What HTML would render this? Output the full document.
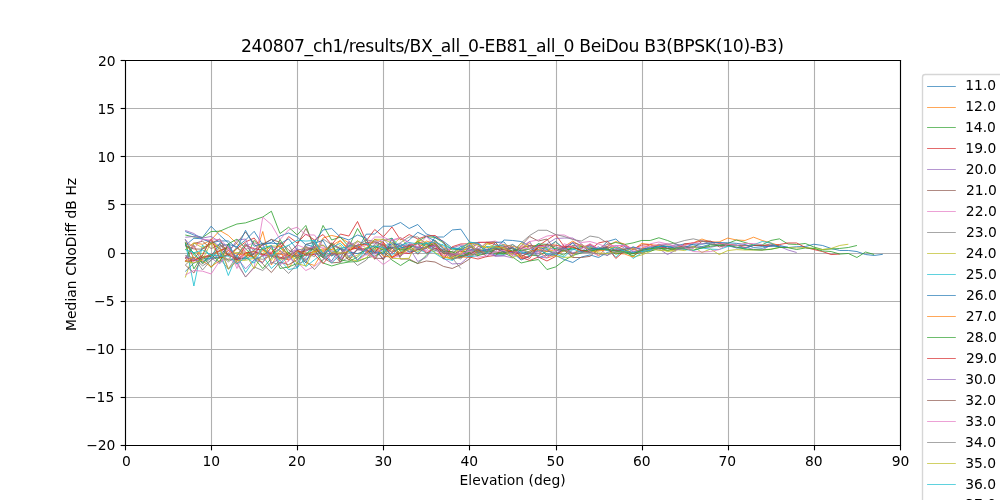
<!DOCTYPE html>
<html lang="en"><head><meta charset="utf-8"><title>240807_ch1/results/BX_all_0-EB81_all_0 BeiDou B3(BPSK(10)-B3)</title>
<style>
html,body{margin:0;padding:0;background:#ffffff;width:1000px;height:500px;overflow:hidden}
svg{display:block}
</style></head><body>
<svg width="1000" height="500" viewBox="0 0 1000 500">
<rect x="0" y="0" width="1000" height="500" fill="#ffffff"/>
<g stroke="#b0b0b0" stroke-width="1.111" fill="none" stroke-linecap="butt">
<line x1="125.5" y1="60.0" x2="125.5" y2="445.0"/>
<line x1="211.5" y1="60.0" x2="211.5" y2="445.0"/>
<line x1="297.5" y1="60.0" x2="297.5" y2="445.0"/>
<line x1="383.5" y1="60.0" x2="383.5" y2="445.0"/>
<line x1="469.5" y1="60.0" x2="469.5" y2="445.0"/>
<line x1="556.5" y1="60.0" x2="556.5" y2="445.0"/>
<line x1="642.5" y1="60.0" x2="642.5" y2="445.0"/>
<line x1="728.5" y1="60.0" x2="728.5" y2="445.0"/>
<line x1="814.5" y1="60.0" x2="814.5" y2="445.0"/>
<line x1="900.5" y1="60.0" x2="900.5" y2="445.0"/>
<line x1="125.0" y1="445.5" x2="900.0" y2="445.5"/>
<line x1="125.0" y1="397.5" x2="900.0" y2="397.5"/>
<line x1="125.0" y1="349.5" x2="900.0" y2="349.5"/>
<line x1="125.0" y1="301.5" x2="900.0" y2="301.5"/>
<line x1="125.0" y1="253.5" x2="900.0" y2="253.5"/>
<line x1="125.0" y1="204.5" x2="900.0" y2="204.5"/>
<line x1="125.0" y1="156.5" x2="900.0" y2="156.5"/>
<line x1="125.0" y1="108.5" x2="900.0" y2="108.5"/>
<line x1="125.0" y1="60.5" x2="900.0" y2="60.5"/>
</g>
<svg x="125.0" y="60.0" width="775.0" height="385.0" viewBox="125.0 60.0 775.0 385.0" overflow="hidden">
<g fill="none" stroke-width="0.810" stroke-linejoin="round" stroke-linecap="butt">
<polyline stroke="#1f77b4" points="185.28,231.52 193.89,234.98 202.50,237.48 211.11,226.22 219.72,235.18 228.33,242.88 236.94,260.53 245.56,257.05 254.17,249.70 262.78,245.01 271.39,239.42 280.00,247.72 288.61,254.00 297.22,268.09 305.83,244.55 314.44,246.90 323.06,256.68 331.67,260.76 340.28,248.35 348.89,257.27 357.50,249.89 366.11,234.21 374.72,234.02 383.33,226.22 391.94,226.22 400.56,222.47 409.17,228.53 417.78,224.49 426.39,234.02 435.00,237.00 443.61,237.00 452.22,229.98 460.83,229.21 469.44,242.01 478.06,243.45 486.67,252.25 495.28,249.76 503.89,239.99 512.50,240.47 521.11,241.53 529.72,245.95 538.33,257.92 546.94,254.59 555.56,255.50 564.17,248.72 572.78,249.87 581.39,246.88 590.00,247.94 598.61,250.41 607.22,241.53 615.83,239.03 624.44,246.53 633.06,251.71 641.67,250.53 650.28,248.87 658.89,244.61 667.50,246.30 676.11,246.00 684.72,243.76 693.33,244.90 701.94,246.70 710.56,244.14 719.17,245.06 727.78,245.68 736.39,247.85 745.00,248.11 753.61,245.35 762.22,246.45 770.83,246.41 779.44,245.36 788.06,247.54 796.67,246.72 805.28,246.53 813.89,244.22 822.50,245.47 831.11,248.46 839.72,250.48 848.33,250.48 856.94,251.54 865.56,254.52 874.17,255.48 882.78,254.33"/>
<polyline stroke="#ff7f0e" points="185.28,249.61 193.89,242.88 202.50,244.32 211.11,239.99 219.72,230.46 228.33,235.46 236.94,243.84 245.56,251.84 254.17,258.28 262.78,231.52 271.39,265.01 280.00,250.64 288.61,268.00 297.22,255.63 305.83,259.71 314.44,252.31 323.06,237.97 331.67,235.46 340.28,237.48 348.89,242.97 357.50,246.32 366.11,250.20 374.72,239.32 383.33,242.52 391.94,250.22 400.56,253.63 409.17,249.49 417.78,248.65 426.39,241.06 435.00,243.53 443.61,254.14 452.22,259.40 460.83,256.68 469.44,254.47 478.06,254.16 486.67,244.12 495.28,242.06 503.89,251.72 512.50,252.12 521.11,246.98 529.72,246.36 538.33,245.42 546.94,251.82 555.56,249.53 564.17,246.53 572.78,241.05 581.39,246.53 590.00,245.95 598.61,256.16 607.22,246.28 615.83,241.53 624.44,244.03 633.06,250.00 641.67,243.45 650.28,244.51 658.89,249.06 667.50,245.94 676.11,247.57 684.72,244.91 693.33,242.88 701.94,239.03 710.56,242.01 719.17,241.91 727.78,238.06 736.39,239.99 745.00,240.47 753.61,237.20 762.22,240.47 770.83,242.97 779.44,245.47"/>
<polyline stroke="#2ca02c" points="185.28,234.98 193.89,237.00 202.50,237.58 211.11,231.52 219.72,231.23 228.33,227.47 236.94,224.01 245.56,222.86 254.17,219.97 262.78,216.98 271.39,211.21 280.00,233.54 288.61,227.19 297.22,234.98 305.83,225.45 314.44,248.65 323.06,225.45 331.67,239.99 340.28,237.10 348.89,246.72 357.50,228.53 366.11,242.88 374.72,247.56 383.33,240.83 391.94,238.15 400.56,251.52 409.17,248.57 417.78,241.21 426.39,236.51 435.00,237.48 443.61,242.98 452.22,249.87 460.83,248.98 469.44,250.43 478.06,248.92 486.67,252.02 495.28,249.71 503.89,246.71 512.50,251.95 521.11,252.82 529.72,255.17 538.33,255.72 546.94,251.25 555.56,252.30 564.17,255.23 572.78,245.28 581.39,246.39 590.00,249.99 598.61,248.48 607.22,244.41 615.83,242.49 624.44,244.51 633.06,242.88 641.67,240.47 650.28,240.47 658.89,237.77 667.50,240.47 676.11,244.03 684.72,248.04 693.33,246.51 701.94,248.03 710.56,244.71 719.17,245.41 727.78,243.45 736.39,239.99 745.00,242.49 753.61,244.99 762.22,244.80 770.83,240.47 779.44,238.83 788.06,244.03 796.67,244.51 805.28,243.45 813.89,247.01 822.50,249.52 831.11,249.04 839.72,248.46 848.33,247.50 856.94,245.47"/>
<polyline stroke="#d62728" points="185.28,239.27 193.89,258.87 202.50,248.36 211.11,242.97 219.72,248.65 228.33,255.25 236.94,248.65 245.56,241.91 254.17,238.06 262.78,249.61 271.39,253.95 280.00,248.65 288.61,236.52 297.22,242.97 305.83,234.02 314.44,239.99 323.06,234.50 331.67,244.80 340.28,234.02 348.89,236.04 357.50,221.51 366.11,240.95 374.72,229.50 383.33,236.81 391.94,226.99 400.56,239.99 409.17,234.50 417.78,239.03 426.39,236.04 435.00,235.46 443.61,242.01 452.22,258.58 460.83,256.63 469.44,252.26 478.06,252.44 486.67,249.29 495.28,248.24 503.89,252.67 512.50,252.14 521.11,258.68 529.72,256.10 538.33,245.95 546.94,239.99 555.56,234.50 564.17,246.53 572.78,246.24 581.39,251.06 590.00,249.76 598.61,242.97 607.22,241.05 615.83,249.04 624.44,245.34 633.06,249.23 641.67,245.06 650.28,244.59 658.89,247.02 667.50,248.25 676.11,249.99 684.72,243.84 693.33,242.88 701.94,240.95 710.56,241.53 719.17,243.45 727.78,244.25 736.39,245.05 745.00,247.59 753.61,245.58 762.22,245.48 770.83,245.73 779.44,244.51 788.06,242.97 796.67,242.97 805.28,247.50 813.89,249.52 822.50,251.54 831.11,254.52 839.72,254.04"/>
<polyline stroke="#9467bd" points="185.28,230.46 193.89,233.54 202.50,239.51 211.11,240.95 219.72,246.17 228.33,269.10 236.94,261.04 245.56,256.18 254.17,253.86 262.78,243.63 271.39,263.44 280.00,258.58 288.61,256.85 297.22,255.19 305.83,246.28 314.44,250.78 323.06,254.08 331.67,250.02 340.28,259.78 348.89,249.95 357.50,246.10 366.11,251.22 374.72,250.99 383.33,258.55 391.94,252.90 400.56,256.54 409.17,243.74 417.78,247.55 426.39,247.60 435.00,246.61 443.61,251.57 452.22,247.95 460.83,245.11 469.44,246.21 478.06,242.36 486.67,250.24 495.28,255.49 503.89,251.44 512.50,252.80 521.11,252.06 529.72,246.12 538.33,253.64 546.94,243.84 555.56,238.54 564.17,238.06 572.78,238.06 581.39,243.84 590.00,250.71 598.61,246.58 607.22,256.02 615.83,245.34 624.44,251.07 633.06,252.35 641.67,248.81 650.28,248.30 658.89,248.52 667.50,248.02 676.11,244.16 684.72,245.98 693.33,247.29 701.94,247.11 710.56,247.25 719.17,245.54 727.78,244.95 736.39,247.81 745.00,247.20 753.61,249.40 762.22,250.15 770.83,244.99 779.44,246.53 788.06,250.00 796.67,252.50"/>
<polyline stroke="#8c564b" points="185.28,258.91 193.89,243.50 202.50,241.17 211.11,248.58 219.72,244.68 228.33,250.40 236.94,242.88 245.56,232.00 254.17,243.84 262.78,255.02 271.39,256.44 280.00,258.32 288.61,253.19 297.22,244.80 305.83,228.53 314.44,244.80 323.06,252.78 331.67,244.01 340.28,258.53 348.89,242.63 357.50,249.77 366.11,249.47 374.72,239.32 383.33,247.37 391.94,247.06 400.56,248.62 409.17,245.27 417.78,243.36 426.39,243.04 435.00,248.65 443.61,249.60 452.22,252.24 460.83,255.60 469.44,247.97 478.06,244.06 486.67,252.54 495.28,248.32 503.89,252.12 512.50,253.27 521.11,245.76 529.72,236.52 538.33,241.05 546.94,239.03 555.56,250.92 564.17,248.62 572.78,242.53 581.39,245.16 590.00,251.99 598.61,248.72 607.22,250.21 615.83,250.47 624.44,248.78 633.06,248.09 641.67,253.48 650.28,249.92 658.89,244.13 667.50,248.58 676.11,246.99 684.72,246.68 693.33,248.09 701.94,241.43 710.56,241.05 719.17,246.91 727.78,245.19 736.39,245.61 745.00,245.47 753.61,245.29 762.22,245.60 770.83,243.98 779.44,246.47"/>
<polyline stroke="#e377c2" points="185.28,261.64 193.89,261.16 202.50,258.28 211.11,256.35 219.72,255.57 228.33,249.69 236.94,264.18 245.56,245.83 254.17,242.86 262.78,245.68 271.39,257.01 280.00,253.26 288.61,258.79 297.22,262.03 305.83,270.50 314.44,266.46 323.06,259.24 331.67,251.94 340.28,254.43 348.89,243.25 357.50,247.19 366.11,245.46 374.72,237.00 383.33,237.10 391.94,240.95 400.56,238.01 409.17,243.03 417.78,249.46 426.39,251.32 435.00,249.24 443.61,257.51 452.22,251.41 460.83,251.01 469.44,253.09 478.06,242.36 486.67,242.49 495.28,241.05 503.89,244.80 512.50,255.93 521.11,246.25 529.72,241.53 538.33,239.99 546.94,236.04 555.56,234.98 564.17,234.98 572.78,239.03 581.39,242.49 590.00,241.53 598.61,244.03 607.22,247.24 615.83,245.68 624.44,245.15 633.06,251.02 641.67,250.49 650.28,243.84 658.89,242.01 667.50,244.03 676.11,246.33 684.72,245.49 693.33,242.88 701.94,243.57 710.56,243.10 719.17,242.52 727.78,244.95"/>
<polyline stroke="#7f7f7f" points="185.28,261.70 193.89,245.14 202.50,263.89 211.11,258.36 219.72,258.25 228.33,269.10 236.94,255.96 245.56,243.84 254.17,250.62 262.78,256.03 271.39,247.79 280.00,258.69 288.61,257.70 297.22,255.28 305.83,252.44 314.44,256.74 323.06,239.03 331.67,244.91 340.28,249.02 348.89,245.84 357.50,241.33 366.11,244.16 374.72,243.00 383.33,248.59 391.94,248.22 400.56,242.62 409.17,236.95 417.78,236.86 426.39,243.88 435.00,240.04 443.61,248.44 452.22,247.83 460.83,248.82 469.44,249.82 478.06,253.36 486.67,249.69 495.28,251.96 503.89,253.84 512.50,251.47 521.11,242.97 529.72,235.46 538.33,230.27 546.94,230.27 555.56,234.50 564.17,236.52 572.78,239.51 581.39,241.05 590.00,236.04 598.61,237.48 607.22,242.97 615.83,251.32 624.44,249.70 633.06,247.11 641.67,249.84 650.28,246.60 658.89,245.55 667.50,244.20 676.11,242.97 684.72,240.47 693.33,238.83 701.94,240.95 710.56,243.84 719.17,245.48 727.78,246.55"/>
<polyline stroke="#bcbd22" points="185.28,277.53 193.89,252.50 202.50,253.93 211.11,238.98 219.72,250.52 228.33,260.60 236.94,247.58 245.56,253.36 254.17,251.30 262.78,243.06 271.39,248.94 280.00,260.30 288.61,256.19 297.22,259.00 305.83,249.60 314.44,246.68 323.06,250.91 331.67,255.73 340.28,244.94 348.89,258.40 357.50,255.21 366.11,248.03 374.72,249.59 383.33,253.57 391.94,245.37 400.56,237.60 409.17,247.97 417.78,241.57 426.39,244.58 435.00,242.58 443.61,251.60 452.22,257.84 460.83,248.57 469.44,242.51 478.06,251.02 486.67,251.39 495.28,248.72 503.89,244.17 512.50,255.19 521.11,248.38 529.72,252.82 538.33,250.25 546.94,251.75 555.56,241.59 564.17,250.44 572.78,248.65 581.39,244.42 590.00,252.28 598.61,250.72 607.22,247.92 615.83,247.22 624.44,249.53 633.06,257.02 641.67,255.00 650.28,251.54 658.89,247.61 667.50,251.54 676.11,249.61 684.72,250.57 693.33,246.53 701.94,252.50 710.56,249.04 719.17,254.52 727.78,250.57 736.39,249.61 745.00,250.00 753.61,250.00 762.22,250.00 770.83,249.04 779.44,247.50 788.06,247.50 796.67,247.98 805.28,247.50 813.89,248.46 822.50,249.52 831.11,248.46 839.72,245.47 848.33,244.22"/>
<polyline stroke="#17becf" points="185.28,241.91 193.89,286.00 202.50,244.80 211.11,258.38 219.72,251.06 228.33,275.50 236.94,255.00 245.56,272.52 254.17,260.01 262.78,256.03 271.39,268.48 280.00,260.20 288.61,269.54 297.22,267.90 305.83,257.31 314.44,240.20 323.06,255.57 331.67,252.63 340.28,248.02 348.89,247.14 357.50,246.30 366.11,255.00 374.72,247.88 383.33,245.61 391.94,244.01 400.56,249.53 409.17,244.78 417.78,248.70 426.39,253.09 435.00,251.29 443.61,243.33 452.22,260.49 460.83,249.19 469.44,255.88 478.06,253.60 486.67,246.68 495.28,254.89 503.89,254.88 512.50,244.27 521.11,251.50 529.72,253.39 538.33,243.43 546.94,249.07 555.56,248.44 564.17,248.24 572.78,249.01 581.39,248.18 590.00,245.87 598.61,249.30 607.22,247.43 615.83,257.31 624.44,249.07 633.06,258.47 641.67,252.98 650.28,249.68 658.89,246.84 667.50,246.42 676.11,247.16 684.72,249.53 693.33,250.57 701.94,248.02 710.56,249.14 719.17,249.49 727.78,246.56 736.39,244.90 745.00,248.86 753.61,244.80 762.22,241.53 770.83,242.97 779.44,247.50"/>
<polyline stroke="#1f77b4" points="185.28,271.46 193.89,263.09 202.50,259.09 211.11,257.99 219.72,257.23 228.33,244.32 236.94,246.72 245.56,239.99 254.17,231.32 262.78,244.99 271.39,242.49 280.00,236.04 288.61,232.96 297.22,237.00 305.83,244.80 314.44,241.91 323.06,229.98 331.67,228.53 340.28,237.00 348.89,239.99 357.50,234.98 366.11,238.06 374.72,259.27 383.33,248.53 391.94,247.44 400.56,246.51 409.17,239.99 417.78,232.29 426.39,236.52 435.00,240.95 443.61,249.10 452.22,253.67 460.83,246.21 469.44,248.96 478.06,251.70 486.67,253.93 495.28,242.47 503.89,241.87 512.50,252.50 521.11,260.01 529.72,256.35 538.33,247.55 546.94,249.35 555.56,255.39 564.17,259.53 572.78,262.51 581.39,257.02 590.00,254.91 598.61,257.50 607.22,252.50 615.83,249.58 624.44,251.38 633.06,246.93 641.67,249.15 650.28,247.68 658.89,246.34 667.50,246.76 676.11,248.35 684.72,247.36 693.33,244.15 701.94,244.21 710.56,242.72 719.17,242.52 727.78,242.81 736.39,243.33 745.00,244.49 753.61,247.59 762.22,248.30 770.83,245.57 779.44,246.95 788.06,247.12"/>
<polyline stroke="#ff7f0e" points="185.28,242.62 193.89,246.88 202.50,257.85 211.11,255.47 219.72,251.09 228.33,246.03 236.94,263.99 245.56,252.95 254.17,258.03 262.78,262.24 271.39,252.90 280.00,253.90 288.61,256.02 297.22,253.98 305.83,262.72 314.44,265.49 323.06,251.06 331.67,245.51 340.28,240.43 348.89,250.63 357.50,247.05 366.11,250.78 374.72,259.05 383.33,244.39 391.94,257.55 400.56,253.07 409.17,246.66 417.78,241.31 426.39,244.67 435.00,242.41 443.61,256.83 452.22,259.24 460.83,256.83 469.44,257.63 478.06,246.26 486.67,247.02 495.28,246.92 503.89,244.81 512.50,246.31 521.11,248.70 529.72,243.25 538.33,251.04 546.94,257.95 555.56,255.60 564.17,250.67 572.78,253.66 581.39,250.80 590.00,250.86 598.61,251.05 607.22,249.66 615.83,253.41 624.44,253.94 633.06,257.02 641.67,248.38 650.28,244.74 658.89,245.43"/>
<polyline stroke="#2ca02c" points="185.28,242.88 193.89,268.86 202.50,255.39 211.11,267.51 219.72,256.35 228.33,259.93 236.94,259.01 245.56,258.30 254.17,240.37 262.78,249.83 271.39,245.49 280.00,268.48 288.61,266.94 297.22,263.47 305.83,247.20 314.44,249.85 323.06,262.99 331.67,265.97 340.28,263.47 348.89,262.03 357.50,261.55 366.11,257.99 374.72,256.04 383.33,251.56 391.94,260.01 400.56,265.49 409.17,260.01 417.78,263.47 426.39,255.39 435.00,246.18 443.61,253.34 452.22,254.46 460.83,250.68 469.44,252.65 478.06,250.48 486.67,251.51 495.28,252.12 503.89,252.98 512.50,257.02 521.11,262.99 529.72,260.97 538.33,259.53 546.94,269.54 555.56,266.94 564.17,260.49 572.78,255.39 581.39,252.98 590.00,247.83 598.61,249.52 607.22,249.22 615.83,254.16 624.44,252.34 633.06,255.63 641.67,251.24 650.28,251.10 658.89,248.69 667.50,248.68 676.11,249.04 684.72,248.97 693.33,250.07 701.94,247.88 710.56,246.35 719.17,245.17 727.78,245.17 736.39,247.07 745.00,249.11 753.61,249.78 762.22,249.98 770.83,249.39 779.44,247.41 788.06,247.69 796.67,249.52 805.28,247.98 813.89,248.46 822.50,250.96 831.11,251.54 839.72,254.04 848.33,253.46 856.94,257.50 865.56,252.02 874.17,254.52"/>
<polyline stroke="#d62728" points="185.28,257.31 193.89,260.20 202.50,257.31 211.11,254.43 219.72,250.57 228.33,247.74 236.94,259.49 245.56,245.52 254.17,248.78 262.78,249.79 271.39,255.49 280.00,257.17 288.61,260.04 297.22,252.22 305.83,251.16 314.44,246.52 323.06,255.54 331.67,245.12 340.28,262.16 348.89,249.67 357.50,248.15 366.11,242.32 374.72,242.03 383.33,244.80 391.94,252.51 400.56,247.64 409.17,246.09 417.78,243.70 426.39,253.09 435.00,248.18 443.61,251.08 452.22,255.18 460.83,250.85 469.44,257.02 478.06,259.05 486.67,256.54 495.28,255.48 503.89,246.67 512.50,247.36 521.11,257.31 529.72,260.49 538.33,257.02 546.94,260.97 555.56,256.54 564.17,246.13 572.78,254.31 581.39,248.13 590.00,244.40 598.61,249.35 607.22,247.37 615.83,258.47 624.44,251.01 633.06,253.26 641.67,252.49"/>
<polyline stroke="#9467bd" points="185.28,256.83 193.89,259.72 202.50,261.16 211.11,258.06 219.72,263.74 228.33,253.27 236.94,240.10 245.56,239.03 254.17,259.63 262.78,255.89 271.39,254.24 280.00,263.87 288.61,252.55 297.22,249.60 305.83,259.62 314.44,253.82 323.06,256.79 331.67,245.36 340.28,248.08 348.89,256.08 357.50,249.56 366.11,251.13 374.72,253.99 383.33,248.76 391.94,244.87 400.56,243.79 409.17,247.45 417.78,261.55 426.39,257.31 435.00,245.02 443.61,258.28 452.22,263.95 460.83,263.47 469.44,255.96 478.06,246.43 486.67,249.90 495.28,255.96 503.89,255.96 512.50,257.86 521.11,249.04 529.72,241.51 538.33,256.95 546.94,257.95 555.56,251.51 564.17,247.47 572.78,252.56 581.39,251.41 590.00,245.38 598.61,249.67 607.22,248.62 615.83,252.41 624.44,246.78 633.06,248.78 641.67,251.56 650.28,250.01 658.89,248.65 667.50,254.52 676.11,250.00 684.72,248.29 693.33,247.92"/>
<polyline stroke="#8c564b" points="185.28,265.01 193.89,273.00 202.50,257.31 211.11,256.35 219.72,243.67 228.33,256.17 236.94,247.52 245.56,255.87 254.17,254.44 262.78,264.05 271.39,272.52 280.00,262.12 288.61,264.70 297.22,259.59 305.83,254.91 314.44,251.14 323.06,257.78 331.67,262.90 340.28,262.16 348.89,249.08 357.50,259.71 366.11,253.19 374.72,247.38 383.33,260.01 391.94,238.15 400.56,259.05 409.17,259.05 417.78,263.47 426.39,260.97 435.00,262.03 443.61,266.46 452.22,268.48 460.83,264.53 469.44,259.05 478.06,250.30 486.67,242.21 495.28,242.06 503.89,252.51 512.50,251.08 521.11,248.52 529.72,245.44 538.33,246.66 546.94,256.05 555.56,253.79 564.17,250.09 572.78,257.50 581.39,257.50 590.00,256.35 598.61,248.85 607.22,246.51 615.83,250.70 624.44,249.48 633.06,253.05 641.67,250.78"/>
<polyline stroke="#e377c2" points="185.28,275.02 193.89,270.50 202.50,271.17 211.11,273.96 219.72,260.97 228.33,258.54 236.94,264.05 245.56,277.04 254.17,267.90 262.78,217.18 271.39,224.59 280.00,239.51 288.61,229.98 297.22,227.19 305.83,234.98 314.44,234.98 323.06,246.72 331.67,252.14 340.28,253.34 348.89,247.30 357.50,260.23 366.11,254.64 374.72,257.31 383.33,264.53 391.94,258.28 400.56,255.28 409.17,251.43 417.78,246.98 426.39,250.62 435.00,241.56 443.61,252.72 452.22,256.32 460.83,250.42 469.44,249.15 478.06,254.78 486.67,253.99 495.28,251.40 503.89,244.84 512.50,254.50 521.11,252.27 529.72,246.93 538.33,251.88 546.94,257.95 555.56,249.81 564.17,246.24 572.78,242.53 581.39,248.91 590.00,243.53 598.61,248.72 607.22,244.41 615.83,246.06 624.44,245.15 633.06,248.71 641.67,246.85 650.28,246.29 658.89,244.38 667.50,243.82 676.11,248.08 684.72,247.69 693.33,251.54 701.94,252.02 710.56,251.54 719.17,249.61 727.78,244.26 736.39,245.51 745.00,243.39 753.61,243.59 762.22,244.53"/>
<polyline stroke="#7f7f7f" points="185.28,265.01 193.89,257.31 202.50,270.02 211.11,260.01 219.72,246.24 228.33,244.33 236.94,262.12 245.56,277.04 254.17,266.94 262.78,270.50 271.39,262.12 280.00,265.01 288.61,273.48 297.22,264.05 305.83,260.49 314.44,269.54 323.06,260.01 331.67,253.06 340.28,262.16 348.89,257.02 357.50,265.49 366.11,260.20 374.72,250.32 383.33,255.06 391.94,246.89 400.56,253.91 409.17,246.44 417.78,247.25 426.39,243.51 435.00,248.94 443.61,252.50 452.22,257.99 460.83,268.48"/>
<polyline stroke="#bcbd22" points="185.28,249.61 193.89,243.07 202.50,247.69 211.11,243.64 219.72,257.76 228.33,254.17 236.94,252.44 245.56,253.69 254.17,268.73 262.78,253.59 271.39,245.98 280.00,246.35 288.61,255.17 297.22,251.25 305.83,247.01 314.44,252.37 323.06,249.91 331.67,249.41 340.28,252.69 348.89,259.68 357.50,260.68 366.11,257.93 374.72,248.87 383.33,249.03 391.94,258.28 400.56,258.76 409.17,258.28 417.78,239.41 426.39,242.72 435.00,245.66 443.61,250.33 452.22,253.30 460.83,248.64 469.44,242.53 478.06,255.51 486.67,243.32 495.28,246.93 503.89,253.14 512.50,254.10 521.11,242.96 529.72,248.76 538.33,246.98 546.94,247.62 555.56,256.06 564.17,257.39 572.78,257.08 581.39,244.54 590.00,249.55 598.61,252.95 607.22,253.53 615.83,252.12 624.44,251.97 633.06,248.17 641.67,253.58 650.28,248.64 658.89,250.44 667.50,250.75 676.11,251.13"/>
<polyline stroke="#17becf" points="185.28,239.27 193.89,254.79 202.50,261.98 211.11,257.41 219.72,243.09 228.33,245.61 236.94,257.94 245.56,258.76 254.17,257.46 262.78,247.48 271.39,245.61 280.00,264.43 288.61,256.40 297.22,250.72 305.83,266.61 314.44,259.81 323.06,253.14 331.67,262.90 340.28,255.12 348.89,245.69 357.50,245.74 366.11,242.96 374.72,251.98 383.33,253.65 391.94,238.15 400.56,247.24 409.17,248.26 417.78,253.20 426.39,242.02 435.00,253.46 443.61,258.76 452.22,260.20 460.83,255.39 469.44,256.70 478.06,255.84 486.67,246.39 495.28,247.60 503.89,249.10 512.50,248.50 521.11,251.91 529.72,255.61 538.33,249.77 546.94,253.79 555.56,254.07 564.17,257.03 572.78,248.92 581.39,252.38 590.00,251.46 598.61,247.75 607.22,250.60 615.83,247.24 624.44,251.11 633.06,252.58 641.67,251.63 650.28,250.11 658.89,246.21"/>
<polyline stroke="#1f77b4" points="185.28,245.38 193.89,238.26 202.50,238.83 211.11,242.88 219.72,240.95 228.33,240.95 236.94,248.36 245.56,230.36 254.17,246.24 262.78,243.36 271.39,243.16 280.00,243.84 288.61,238.83 297.22,249.61 305.83,263.00 314.44,243.11 323.06,240.39 331.67,256.26 340.28,248.53 348.89,251.96 357.50,253.61 366.11,250.55 374.72,252.56 383.33,253.51 391.94,242.54 400.56,246.17 409.17,252.21 417.78,249.95 426.39,248.62 435.00,237.48 443.61,241.48 452.22,248.04 460.83,249.74 469.44,245.45 478.06,251.09 486.67,250.09 495.28,247.71 503.89,252.30 512.50,247.02 521.11,254.01 529.72,251.15 538.33,245.11 546.94,247.39 555.56,241.53 564.17,248.65 572.78,242.97 581.39,251.54 590.00,249.01 598.61,248.72 607.22,247.88"/>
<polyline stroke="#ff7f0e" points="185.28,260.82 193.89,257.11 202.50,260.97 211.11,266.80 219.72,260.48 228.33,250.53 236.94,254.36 245.56,254.91 254.17,256.95 262.78,250.77 271.39,252.51 280.00,245.55 288.61,260.47 297.22,251.30 305.83,253.57 314.44,251.83 323.06,248.78 331.67,249.61 340.28,240.98 348.89,248.45 357.50,245.64 366.11,252.77 374.72,244.95 383.33,256.35 391.94,257.09 400.56,249.82 409.17,246.64 417.78,243.36 426.39,248.19 435.00,241.25 443.61,246.93 452.22,256.72 460.83,252.67 469.44,246.53 478.06,250.95 486.67,253.00 495.28,246.36 503.89,247.72 512.50,251.64 521.11,257.56 529.72,251.08 538.33,249.41 546.94,251.45 555.56,245.45"/>
<polyline stroke="#2ca02c" points="185.28,244.94 193.89,252.92 202.50,263.33 211.11,254.31 219.72,262.36 228.33,243.84 236.94,239.12 245.56,248.65 254.17,258.23 262.78,268.59 271.39,258.15 280.00,239.54 288.61,253.03 297.22,257.89 305.83,254.23 314.44,246.79 323.06,257.80 331.67,243.41 340.28,259.83 348.89,261.42 357.50,257.13 366.11,248.03 374.72,246.25 383.33,250.10 391.94,247.28 400.56,250.04 409.17,248.34 417.78,242.01 426.39,246.52 435.00,243.45 443.61,251.47 452.22,251.66 460.83,256.38 469.44,253.13 478.06,255.60 486.67,253.24 495.28,253.64 503.89,253.96 512.50,249.89 521.11,250.53 529.72,249.20 538.33,243.85 546.94,244.35 555.56,248.74 564.17,251.27 572.78,247.63 581.39,250.17 590.00,251.12 598.61,249.36 607.22,249.05 615.83,251.18 624.44,252.09 633.06,253.81 641.67,250.32 650.28,248.67 658.89,247.63 667.50,250.38 676.11,247.97 684.72,248.09"/>
<polyline stroke="#d62728" points="185.28,261.16 193.89,260.68 202.50,255.39 211.11,238.98 219.72,258.07 228.33,254.27 236.94,260.03 245.56,252.85 254.17,251.78 262.78,254.82 271.39,252.74 280.00,243.62 288.61,256.06 297.22,250.32 305.83,255.33 314.44,254.42 323.06,263.64 331.67,253.67 340.28,253.88 348.89,251.29 357.50,244.67 366.11,244.32 374.72,252.77 383.33,242.11 391.94,257.55 400.56,252.42 409.17,253.59 417.78,249.37 426.39,247.83 435.00,244.90 443.61,259.09 452.22,246.72 460.83,243.95 469.44,243.88 478.06,242.39 486.67,242.21 495.28,244.36 503.89,250.08 512.50,251.72 521.11,254.96 529.72,258.44 538.33,245.88 546.94,244.91 555.56,245.11 564.17,247.28 572.78,247.14 581.39,250.46 590.00,252.39"/>
<polyline stroke="#9467bd" points="185.28,237.29 193.89,236.43 202.50,238.06 211.11,236.43 219.72,241.91 228.33,247.69 236.94,257.50 245.56,268.85 254.17,259.74 262.78,262.66 271.39,246.16 280.00,250.30 288.61,257.74 297.22,249.23 305.83,250.53 314.44,247.80 323.06,245.15 331.67,252.35 340.28,258.46 348.89,241.19 357.50,247.95 366.11,250.60 374.72,244.49 383.33,238.75 391.94,248.03 400.56,245.78 409.17,244.61 417.78,247.34 426.39,248.06 435.00,245.31 443.61,250.37 452.22,254.78 460.83,254.61 469.44,250.89 478.06,248.64 486.67,253.04 495.28,256.21 503.89,255.54 512.50,251.90 521.11,253.67 529.72,253.74 538.33,251.06 546.94,250.69 555.56,253.73 564.17,247.85 572.78,256.50"/>
<polyline stroke="#8c564b" points="185.28,245.95 193.89,248.94 202.50,249.21 211.11,243.40 219.72,238.88 228.33,255.64 236.94,257.86 245.56,259.21 254.17,253.27 262.78,244.07 271.39,239.42 280.00,242.23 288.61,249.77 297.22,256.59 305.83,248.95 314.44,249.00 323.06,254.38 331.67,242.75 340.28,248.86 348.89,260.36 357.50,248.91 366.11,248.81 374.72,258.14 383.33,258.55 391.94,247.95 400.56,256.24 409.17,245.08 417.78,254.31 426.39,246.17 435.00,244.61 443.61,253.20 452.22,254.09 460.83,257.60 469.44,254.17 478.06,249.27 486.67,256.70 495.28,249.23 503.89,249.41 512.50,248.26 521.11,256.30 529.72,252.53 538.33,248.26"/>
<polyline stroke="#e377c2" points="185.28,239.41 193.89,248.36 202.50,239.41 211.11,239.99 219.72,239.41 228.33,247.21 236.94,268.51 245.56,248.91 254.17,247.78 262.78,256.66 271.39,251.83 280.00,264.42 288.61,261.39 297.22,244.99 305.83,248.35 314.44,246.78 323.06,247.90 331.67,262.12 340.28,253.50 348.89,248.52 357.50,242.40 366.11,253.24 374.72,257.47 383.33,240.08 391.94,240.01 400.56,237.54 409.17,242.45 417.78,246.62 426.39,236.52 435.00,245.66 443.61,255.55 452.22,253.88 460.83,253.84 469.44,251.19 478.06,257.19 486.67,255.91 495.28,252.36 503.89,250.37 512.50,255.64 521.11,248.03 529.72,248.84 538.33,246.59 546.94,246.48 555.56,250.96 564.17,243.83 572.78,246.43 581.39,244.50 590.00,251.56 598.61,255.99"/>
<polyline stroke="#7f7f7f" points="185.28,255.43 193.89,257.99 202.50,265.86 211.11,260.33 219.72,253.93 228.33,261.91 236.94,255.50 245.56,243.43 254.17,258.04 262.78,259.35 271.39,255.19 280.00,254.95 288.61,244.96 297.22,259.24 305.83,244.20 314.44,242.23 323.06,257.00 331.67,254.34 340.28,253.38 348.89,245.88 357.50,246.01 366.11,239.89 374.72,241.33 383.33,245.78 391.94,252.20 400.56,243.92 409.17,251.40 417.78,249.23 426.39,246.97 435.00,250.47 443.61,252.05 452.22,255.97 460.83,259.12 469.44,246.47 478.06,252.37 486.67,251.79 495.28,247.04 503.89,247.04 512.50,244.57 521.11,249.64 529.72,253.39 538.33,255.73 546.94,245.03 555.56,246.87 564.17,249.54 572.78,253.58 581.39,252.77 590.00,252.43 598.61,254.02 607.22,255.10 615.83,252.12 624.44,252.63"/>
<polyline stroke="#bcbd22" points="185.28,261.46 193.89,262.80 202.50,259.91 211.11,242.35 219.72,247.75 228.33,269.10 236.94,260.57 245.56,260.28 254.17,258.38 262.78,248.27 271.39,260.52 280.00,248.22 288.61,253.30 297.22,263.52 305.83,265.94 314.44,248.88 323.06,244.98 331.67,252.39 340.28,253.36 348.89,251.67 357.50,240.47 366.11,248.48 374.72,239.32 383.33,239.34 391.94,243.14 400.56,254.58 409.17,248.29 417.78,251.50 426.39,246.75 435.00,252.50 443.61,257.31 452.22,257.79 460.83,254.43 469.44,242.51 478.06,245.19 486.67,247.77 495.28,246.88 503.89,248.20 512.50,257.86 521.11,253.52"/>
<polyline stroke="#17becf" points="185.28,249.55 193.89,252.73 202.50,250.01 211.11,254.89 219.72,256.08 228.33,256.06 236.94,263.99 245.56,257.28 254.17,263.14 262.78,247.75 271.39,256.11 280.00,248.72 288.61,245.21 297.22,240.21 305.83,241.08 314.44,240.48 323.06,253.82 331.67,247.53 340.28,243.34 348.89,251.40 357.50,260.68 366.11,248.66 374.72,245.99 383.33,247.66 391.94,255.55 400.56,245.49 409.17,242.55 417.78,243.89 426.39,243.63 435.00,241.91 443.61,245.65 452.22,248.57 460.83,248.08 469.44,242.51 478.06,242.96 486.67,253.45 495.28,245.38 503.89,245.19"/>
</g></svg>
<g stroke="#000000" stroke-width="1.111" fill="none">
<line x1="125.5" y1="445.50" x2="125.5" y2="450.36"/>
<line x1="211.5" y1="445.50" x2="211.5" y2="450.36"/>
<line x1="297.5" y1="445.50" x2="297.5" y2="450.36"/>
<line x1="383.5" y1="445.50" x2="383.5" y2="450.36"/>
<line x1="469.5" y1="445.50" x2="469.5" y2="450.36"/>
<line x1="556.5" y1="445.50" x2="556.5" y2="450.36"/>
<line x1="642.5" y1="445.50" x2="642.5" y2="450.36"/>
<line x1="728.5" y1="445.50" x2="728.5" y2="450.36"/>
<line x1="814.5" y1="445.50" x2="814.5" y2="450.36"/>
<line x1="900.5" y1="445.50" x2="900.5" y2="450.36"/>
<line x1="120.64" y1="445.5" x2="125.50" y2="445.5"/>
<line x1="120.64" y1="397.5" x2="125.50" y2="397.5"/>
<line x1="120.64" y1="349.5" x2="125.50" y2="349.5"/>
<line x1="120.64" y1="301.5" x2="125.50" y2="301.5"/>
<line x1="120.64" y1="253.5" x2="125.50" y2="253.5"/>
<line x1="120.64" y1="204.5" x2="125.50" y2="204.5"/>
<line x1="120.64" y1="156.5" x2="125.50" y2="156.5"/>
<line x1="120.64" y1="108.5" x2="125.50" y2="108.5"/>
<line x1="120.64" y1="60.5" x2="125.50" y2="60.5"/>
</g>
<g stroke="#000000" stroke-width="1.111" fill="none" stroke-linecap="square">
<line x1="125.5" y1="60.5" x2="125.5" y2="445.5"/>
<line x1="900.5" y1="60.5" x2="900.5" y2="445.5"/>
<line x1="125.5" y1="60.5" x2="900.5" y2="60.5"/>
<line x1="125.5" y1="445.5" x2="900.5" y2="445.5"/>
</g>
<rect x="922.50" y="74.50" width="100.00" height="640.00" rx="2.78" ry="2.78" fill="#ffffff" fill-opacity="0.8" stroke="#cccccc" stroke-opacity="0.8" stroke-width="1.389"/>
<g fill="none" stroke-width="0.694">
<line x1="927.10" y1="86.50" x2="955.80" y2="86.50" stroke="#1f77b4"/>
<line x1="927.10" y1="107.50" x2="955.80" y2="107.50" stroke="#ff7f0e"/>
<line x1="927.10" y1="127.50" x2="955.80" y2="127.50" stroke="#2ca02c"/>
<line x1="927.10" y1="148.50" x2="955.80" y2="148.50" stroke="#d62728"/>
<line x1="927.10" y1="169.50" x2="955.80" y2="169.50" stroke="#9467bd"/>
<line x1="927.10" y1="190.50" x2="955.80" y2="190.50" stroke="#8c564b"/>
<line x1="927.10" y1="211.50" x2="955.80" y2="211.50" stroke="#e377c2"/>
<line x1="927.10" y1="232.50" x2="955.80" y2="232.50" stroke="#7f7f7f"/>
<line x1="927.10" y1="253.50" x2="955.80" y2="253.50" stroke="#bcbd22"/>
<line x1="927.10" y1="274.50" x2="955.80" y2="274.50" stroke="#17becf"/>
<line x1="927.10" y1="295.50" x2="955.80" y2="295.50" stroke="#1f77b4"/>
<line x1="927.10" y1="316.50" x2="955.80" y2="316.50" stroke="#ff7f0e"/>
<line x1="927.10" y1="337.50" x2="955.80" y2="337.50" stroke="#2ca02c"/>
<line x1="927.10" y1="358.50" x2="955.80" y2="358.50" stroke="#d62728"/>
<line x1="927.10" y1="379.50" x2="955.80" y2="379.50" stroke="#9467bd"/>
<line x1="927.10" y1="400.50" x2="955.80" y2="400.50" stroke="#8c564b"/>
<line x1="927.10" y1="421.50" x2="955.80" y2="421.50" stroke="#e377c2"/>
<line x1="927.10" y1="442.50" x2="955.80" y2="442.50" stroke="#7f7f7f"/>
<line x1="927.10" y1="463.50" x2="955.80" y2="463.50" stroke="#bcbd22"/>
<line x1="927.10" y1="484.50" x2="955.80" y2="484.50" stroke="#17becf"/>
<line x1="927.10" y1="504.50" x2="955.80" y2="504.50" stroke="#1f77b4"/>
</g>
<g font-family="'DejaVu Sans', 'Liberation Sans', sans-serif" fill="#000000" font-size="13.889px">
<text x="126.41" y="466.37" text-anchor="middle">0</text>
<text x="211.38" y="466.15" text-anchor="middle">10</text>
<text x="296.94" y="466.11" text-anchor="middle">20</text>
<text x="383.38" y="466.12" text-anchor="middle">30</text>
<text x="469.31" y="466.00" text-anchor="middle">40</text>
<text x="555.42" y="466.33" text-anchor="middle">50</text>
<text x="641.78" y="466.47" text-anchor="middle">60</text>
<text x="727.23" y="466.39" text-anchor="middle">70</text>
<text x="813.85" y="466.30" text-anchor="middle">80</text>
<text x="900.55" y="466.23" text-anchor="middle">90</text>
<text x="115.44" y="450.38" text-anchor="end">−20</text>
<text x="114.27" y="402.31" text-anchor="end">−15</text>
<text x="114.43" y="354.16" text-anchor="end">−10</text>
<text x="114.53" y="306.22" text-anchor="end">−5</text>
<text x="115.91" y="258.17" text-anchor="end">0</text>
<text x="115.82" y="210.01" text-anchor="end">5</text>
<text x="115.13" y="161.70" text-anchor="end">10</text>
<text x="115.05" y="114.47" text-anchor="end">15</text>
<text x="115.71" y="66.42" text-anchor="end">20</text>
<text x="512.61" y="484.67" text-anchor="middle" textLength="106.10" lengthAdjust="spacing">Elevation (deg)</text>
<text transform="translate(75.66,254.45) rotate(-90)" text-anchor="middle" textLength="153.20" lengthAdjust="spacing">Median CNoDiff dB Hz</text>
<text x="512.41" y="51.60" text-anchor="middle" font-size="17.200px" textLength="542.90" lengthAdjust="spacing">240807_ch1/results/BX_all_0-EB81_all_0 BeiDou B3(BPSK(10)-B3)</text>
<text x="965.31" y="90.12" text-anchor="start">11.0</text>
<text x="965.20" y="111.12" text-anchor="start">12.0</text>
<text x="965.06" y="132.04" text-anchor="start">14.0</text>
<text x="965.32" y="153.28" text-anchor="start">19.0</text>
<text x="965.76" y="174.25" text-anchor="start">20.0</text>
<text x="965.98" y="195.15" text-anchor="start">21.0</text>
<text x="965.84" y="216.07" text-anchor="start">22.0</text>
<text x="965.93" y="237.04" text-anchor="start">23.0</text>
<text x="965.77" y="258.04" text-anchor="start">24.0</text>
<text x="965.86" y="279.24" text-anchor="start">25.0</text>
<text x="966.00" y="300.27" text-anchor="start">26.0</text>
<text x="965.81" y="321.33" text-anchor="start">27.0</text>
<text x="965.92" y="342.20" text-anchor="start">28.0</text>
<text x="965.96" y="363.19" text-anchor="start">29.0</text>
<text x="965.14" y="384.27" text-anchor="start">30.0</text>
<text x="965.21" y="405.10" text-anchor="start">32.0</text>
<text x="965.28" y="426.07" text-anchor="start">33.0</text>
<text x="965.09" y="447.05" text-anchor="start">34.0</text>
<text x="965.21" y="468.23" text-anchor="start">35.0</text>
<text x="965.23" y="489.36" text-anchor="start">36.0</text>
<text x="965.23" y="509.36" text-anchor="start">37.0</text>
<text x="965.23" y="530.36" text-anchor="start">38.0</text>
</g>
</svg>
</body></html>
